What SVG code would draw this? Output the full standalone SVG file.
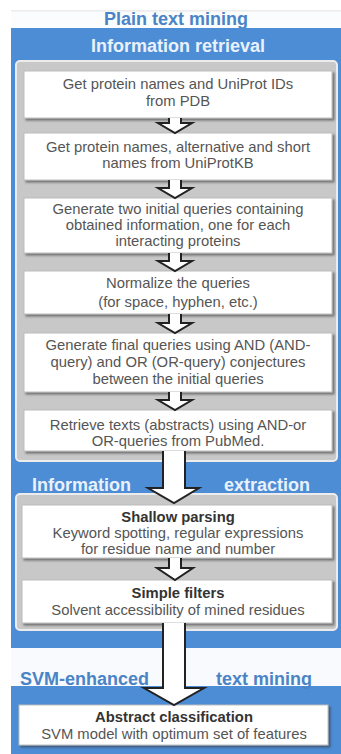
<svg xmlns="http://www.w3.org/2000/svg" width="341" height="754" viewBox="0 0 341 754">
<defs>
<filter id="sh" x="-5%" y="-10%" width="115%" height="130%">
<feDropShadow dx="2" dy="2" stdDeviation="1.2" flood-color="#333" flood-opacity="0.6"/>
</filter>
</defs>
<style>
.blue{fill:#4d8dd6}
.panel{fill:#c8c8c8;stroke:#ececec;stroke-width:2}
.box{fill:#ffffff;stroke:#bdbdbd;stroke-width:1;filter:url(#sh)}
.t{font-family:"Liberation Sans",Arial,sans-serif;font-size:14.8px;fill:#555;text-anchor:middle}
.b{font-weight:bold;fill:#333}
.h{font-family:"Liberation Sans",Arial,sans-serif;font-size:18px;font-weight:bold;fill:#e9f1fb}
.ht{font-family:"Liberation Sans",Arial,sans-serif;font-size:18px;font-weight:bold;fill:#4a84c6}
.arr{fill:#ffffff;stroke:#222;stroke-width:2;stroke-linejoin:miter}
</style>
<rect x="0" y="0" width="341" height="754" fill="#ffffff"/>
<line x1="11" y1="11" x2="341" y2="11" stroke="#d8d8d8" stroke-width="1"/>
<rect x="11" y="11.5" width="330" height="16.5" fill="#fbfcfe"/>
<text class="ht" x="176" y="25" text-anchor="middle">Plain text mining</text>
<rect class="blue" x="11" y="28" width="330" height="620"/>
<rect x="11" y="648" width="330" height="38" fill="#f8fafd"/>
<rect class="blue" x="11" y="686" width="330" height="68"/>
<text class="h" x="178" y="52" text-anchor="middle">Information retrieval</text>
<text class="h" x="32" y="491">Information</text>
<text class="h" x="310" y="491" text-anchor="end">extraction</text>
<text class="ht" x="20" y="685">SVM-enhanced</text>
<text class="ht" x="312" y="685" text-anchor="end">text mining</text>
<rect class="panel" x="16" y="61" width="321" height="400" rx="4"/>
<rect class="panel" x="16" y="494" width="321" height="136" rx="4"/>

<g id="n1"><rect class="box" x="24" y="71" width="308" height="47"/>
<text class="t" x="178" y="89">Get protein names and UniProt IDs</text>
<text class="t" x="178" y="106">from PDB</text></g>
<g id="n2"><rect class="box" x="24" y="133" width="308" height="47"/>
<text class="t" x="178" y="152">Get protein names, alternative and short</text>
<text class="t" x="178" y="168">names from UniProtKB</text></g>
<g id="n3"><rect class="box" x="24" y="198" width="308" height="55"/>
<text class="t" x="178" y="214">Generate two initial queries containing</text>
<text class="t" x="178" y="230">obtained information, one for each</text>
<text class="t" x="178" y="246">interacting proteins</text></g>
<g id="n4"><rect class="box" x="24" y="271" width="308" height="43"/>
<text class="t" x="178" y="288">Normalize the queries</text>
<text class="t" x="178" y="307">(for space, hyphen, etc.)</text></g>
<g id="n5"><rect class="box" x="24" y="333" width="308" height="59"/>
<text class="t" x="178" y="350">Generate final queries using AND (AND-</text>
<text class="t" x="178" y="367">query) and OR (OR-query) conjectures</text>
<text class="t" x="178" y="384">between the initial queries</text></g>
<g id="n6"><rect class="box" x="24" y="410" width="308" height="41"/>
<text class="t" x="178" y="430">Retrieve texts (abstracts) using AND-or</text>
<text class="t" x="178" y="446">OR-queries from PubMed.</text></g>
<g id="n7"><rect class="box" x="22" y="505" width="310" height="53"/>
<text class="t b" x="178" y="522">Shallow parsing</text>
<text class="t" x="178" y="538">Keyword spotting, regular expressions</text>
<text class="t" x="178" y="554">for residue name and number</text></g>
<g id="n8"><rect class="box" x="22" y="580" width="310" height="43"/>
<text class="t b" x="178" y="598">Simple filters</text>
<text class="t" x="178" y="615">Solvent accessibility of mined residues</text></g>
<g id="n9"><rect class="box" x="19" y="705" width="309" height="40"/>
<text class="t b" x="174" y="722">Abstract classification</text>
<text class="t" x="174" y="739">SVM model with optimum set of features</text></g>

<g id="connectors">
<path class="arr" d="M169 118 V123 H158 L175 133 L192 123 H181 V118"/>
<path class="arr" d="M169 180 V188 H158 L175 198 L192 188 H181 V180"/>
<path class="arr" d="M169 253 V261 H158 L175 271 L192 261 H181 V253"/>
<path class="arr" d="M169 314 V323 H158 L175 333 L192 323 H181 V314"/>
<path class="arr" d="M169 392 V400 H158 L175 410 L192 400 H181 V392"/>
<path class="arr" d="M169 558 V568 H157 L175 580 L193 568 H181 V558"/>
<path class="arr" d="M163 451 V488 H148 L174 503 L199 488 H185 V451"/>
<path class="arr" d="M163 623 V688 H144 L174 705 L204 688 H185 V623"/>
</g>
</svg>
